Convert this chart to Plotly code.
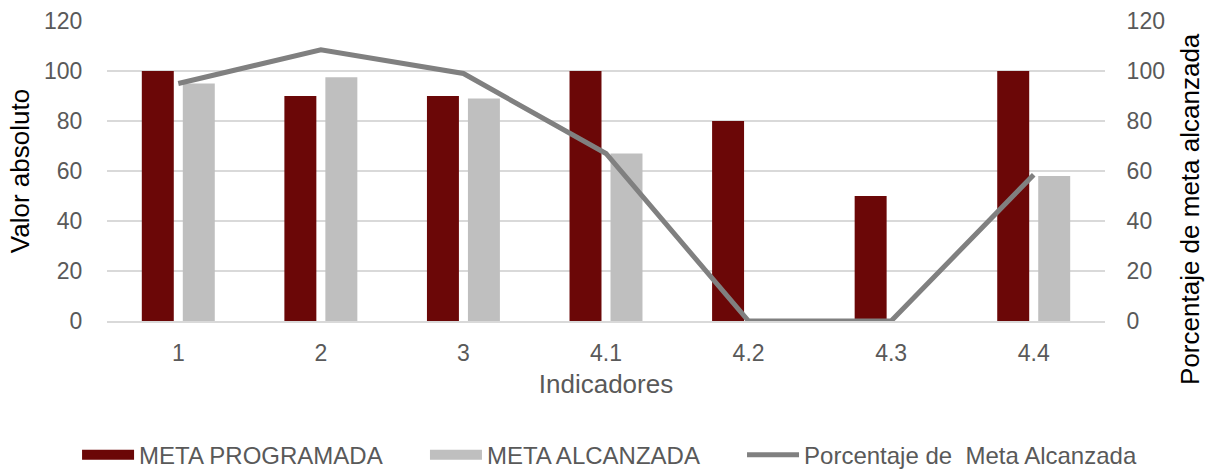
import plotly.graph_objects as go

categories = ["1", "2", "3", "4.1", "4.2", "4.3", "4.4"]
meta_programada = [100, 90, 90, 100, 80, 50, 100]
meta_alcanzada = [95, 97.5, 89, 67, 0, 0, 58]
porcentaje = [95, 108.5, 99, 67, 0, 0, 58.5]

font_family = "Liberation Sans, Arial, sans-serif"
tick_color = "#595959"
red = "#6B0707"
gray = "#BFBFBF"
line_gray = "#808080"

fig = go.Figure()
fig.add_trace(go.Bar(x=categories, y=meta_programada, name="META PROGRAMADA",
                     marker=dict(color=red, line=dict(width=0)), showlegend=False,
                     legendgroup="p"))
fig.add_trace(go.Bar(x=categories, y=meta_alcanzada, name="META ALCANZADA",
                     marker=dict(color=gray, line=dict(width=0)), showlegend=False,
                     legendgroup="a"))
fig.add_trace(go.Scatter(x=categories, y=porcentaje, name="Porcentaje de  Meta Alcanzada",
                         mode="lines", line=dict(color=line_gray, width=5),
                         yaxis="y2", showlegend=False, legendgroup="l"))
# legend entries
fig.add_trace(go.Scatter(x=[None], y=[None], mode="lines", name="META PROGRAMADA",
                         line=dict(color=red, width=13), legendgroup="p", legend="legend"))
fig.add_trace(go.Scatter(x=[None], y=[None], mode="lines", name="META ALCANZADA",
                         line=dict(color=gray, width=13), legendgroup="a", legend="legend2"))
fig.add_trace(go.Scatter(x=[None], y=[None], mode="lines", name="Porcentaje de  Meta Alcanzada",
                         line=dict(color=line_gray, width=5), legendgroup="l", legend="legend3"))

legend_common = dict(orientation="h", xanchor="left", y=-0.447, yanchor="middle",
                     font=dict(size=24, color=tick_color), itemwidth=52,
                     bgcolor="rgba(0,0,0,0)")

fig.update_layout(
    width=1207, height=469,
    margin=dict(l=107, r=102, t=21, b=148, autoexpand=False),
    paper_bgcolor="white", plot_bgcolor="white",
    barmode="group", bargap=0.425, bargroupgap=0.22,
    font=dict(family=font_family, size=24, color=tick_color),
    xaxis=dict(
        type="category", showgrid=False, showline=True, linecolor="#D9D9D9", linewidth=2,
        automargin=False,
        tickfont=dict(size=23, color=tick_color), ticks="outside", ticklen=10, tickcolor="rgba(0,0,0,0)",
        title=dict(text="Indicadores", font=dict(size=26, color=tick_color), standoff=10),
    ),
    yaxis=dict(
        range=[0, 120], dtick=20, showgrid=True, gridcolor="#D9D9D9", gridwidth=1.5,
        zeroline=False, showline=False, automargin=False,
        tickfont=dict(size=23, color=tick_color), ticks="outside", ticklen=19, tickcolor="rgba(0,0,0,0)",
        title=dict(text="Valor absoluto", font=dict(size=26, color="black"), standoff=6),
    ),
    yaxis2=dict(
        range=[0, 120], dtick=20, overlaying="y", side="right", showgrid=False,
        zeroline=False, showline=False, automargin=False,
        tickfont=dict(size=23, color=tick_color), ticks="outside", ticklen=16, tickcolor="rgba(0,0,0,0)",
    ),
    annotations=[dict(
        text="Porcentaje de meta alcanzada", xref="paper", yref="paper",
        x=1.085, y=0.373, xanchor="center", yanchor="middle", textangle=-90,
        showarrow=False, font=dict(size=26, color="black"),
    )],
    legend=dict(x=-0.03, **legend_common),
    legend2=dict(x=0.3186, **legend_common),
    legend3=dict(x=0.6363, **legend_common),
)

fig.write_html("out.html", config={"displayModeBar": False},
               post_script="document.body.style.margin='0px';")
